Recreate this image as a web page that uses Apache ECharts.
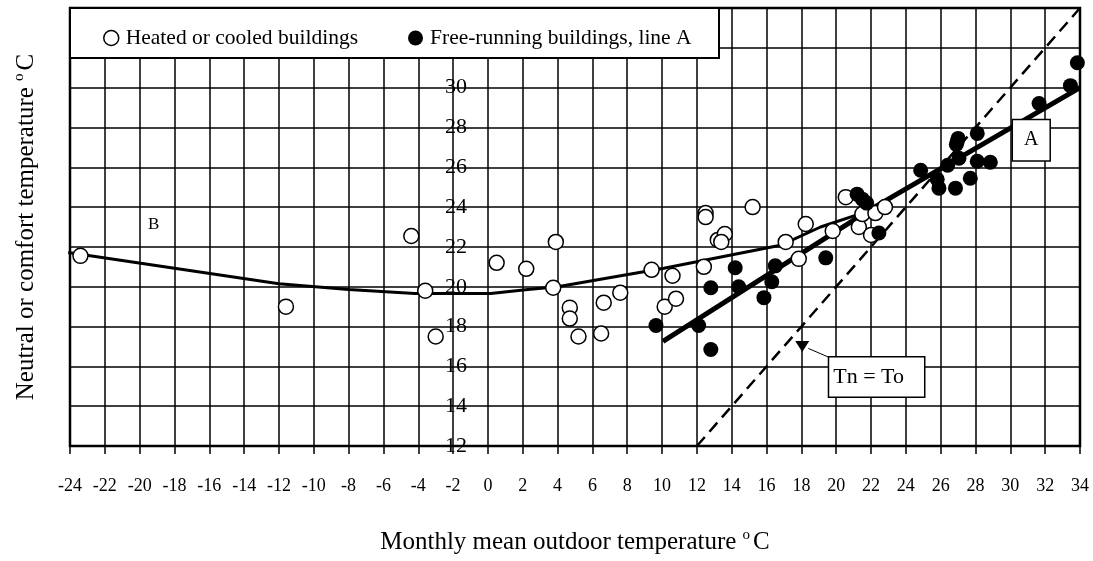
<!DOCTYPE html>
<html>
<head>
<meta charset="utf-8">
<script src="https://cdn.jsdelivr.net/npm/echarts@6/dist/echarts.min.js"></script>
<style>
html,body{margin:0;padding:0;background:#fff;}
#chart{width:1093px;height:561px;}
</style>
</head>
<body>
<div id="chart"></div>
<script>
// ---- data ----
const heatedCooled = [[-23.4,21.55],[-11.6,19.0],[-4.4,22.55],[-3.6,19.8],[-3.0,17.5],[0.5,21.2],[2.2,20.9],[3.9,22.25],[3.75,19.95],[4.7,18.95],[4.7,18.4],[5.2,17.5],[6.5,17.65],[6.65,19.2],[7.6,19.7],[9.4,20.85],[10.6,20.55],[10.15,19.0],[10.8,19.4],[12.4,21.0],[12.5,23.7],[12.5,23.5],[13.2,22.35],[13.6,22.65],[13.4,22.25],[15.2,24.0],[17.1,22.25],[18.25,23.15],[17.85,21.4],[19.8,22.8],[20.55,24.5],[21.3,23.0],[21.5,23.65],[22.0,22.6],[22.25,23.7],[22.8,24.0]];
const freeRunning = [[9.65,18.05],[12.1,18.05],[12.8,16.85],[12.8,19.95],[14.2,20.95],[14.4,20.0],[15.85,19.45],[16.5,21.05],[16.3,20.25],[19.4,21.45],[22.45,22.7],[21.2,24.65],[21.5,24.4],[21.75,24.2],[24.85,25.85],[25.8,25.4],[25.9,24.95],[26.4,26.1],[26.85,24.95],[26.95,27.3],[27.0,27.45],[26.9,27.15],[27.05,26.45],[27.7,25.45],[28.1,27.7],[28.1,26.3],[28.85,26.25],[31.65,29.2],[33.45,30.1],[33.85,31.25]];
const lineB = [[-24.1,21.72],[-12,20.15],[-8,19.86],[-4.2,19.66],[0.15,19.66],[2.3,19.86],[4,20.0],[10.1,20.93],[16.8,22.08],[19.1,23.0],[21.5,23.7],[22.0,23.9]];
const lineA = [[10.05,17.25],[22.0,23.9],[34,30.0]];
const lineTnTo = [[12,12],[34,34]];
const labelA = [[31.2,27.36]];
const labelB = [[-19.2,23.1]];
const labelTn = [[19.6,16.45]];
const arrowLine = [[19.6,16.45],[18.4,16.9]];
const arrowHead = [[18.05,17.0]];
const xMin = -24, xMax = 34, xStep = 2;
const yMin = 12, yMax = 34, yStep = 2;
const xTitle = 'Monthly mean outdoor temperature {sup|o}C';
const yTitle = 'Neutral or comfort temperature {sup|o}C';
const legendNames = ['Heated or cooled buildings', 'Free-running buildings, line A'];

// ---- layout ----
const F = 'Liberation Serif';
const G = {left:70, right:13, top:8, bottom:109};
const gridW = 1093 - G.left - G.right;
const yAxisOffset = -((-2 - xMin) / (xMax - xMin)) * gridW;

const chart = echarts.init(document.getElementById('chart'), null, {renderer:'canvas'});
const supRich = {sup:{fontSize:15, fontFamily:F, color:'#000', verticalAlign:'top', lineHeight:16, padding:[0,3,0,0]}};
const solid = {opacity:1};

chart.setOption({
  animation:false,
  backgroundColor:'#fff',
  grid:{left:G.left, right:G.right, top:G.top, bottom:G.bottom, show:true, borderColor:'#000', borderWidth:2.5, backgroundColor:'transparent'},
  legend:{
    left:98, top:22, z:60,
    itemWidth:15, itemHeight:15, itemGap:50,
    textStyle:{fontFamily:F, fontSize:21.5, color:'#000', padding:[0,0,0,2]},
    data:[
      {name:legendNames[0], icon:'circle', itemStyle:{color:'#fff', borderColor:'#000', borderWidth:1.5, opacity:1}},
      {name:legendNames[1], icon:'circle', itemStyle:{color:'#000', borderColor:'#000', borderWidth:0, opacity:1}}
    ]
  },
  graphic:[{type:'rect', z:50, shape:{x:70, y:8, width:649, height:50}, style:{fill:'#fff', stroke:'#000', lineWidth:2}}],
  xAxis:[{
    type:'value', min:xMin, max:xMax, interval:xStep,
    axisLine:{show:true, onZero:false, lineStyle:{color:'#000', width:2}},
    axisTick:{show:true, length:8, lineStyle:{color:'#000', width:1.5}},
    axisLabel:{fontFamily:F, fontSize:18, color:'#000', margin:31},
    splitLine:{show:true, lineStyle:{color:'#000', width:1.5}},
    name:xTitle, nameLocation:'middle', nameGap:82,
    nameTextStyle:{fontFamily:F, fontSize:25, color:'#000', lineHeight:28, rich:supRich}
  }],
  yAxis:[{
    type:'value', min:yMin, max:yMax, interval:yStep, offset:yAxisOffset,
    axisLine:{show:false}, axisTick:{show:false},
    axisLabel:{inside:true, margin:-8, fontFamily:F, fontSize:22, color:'#000', showMaxLabel:false},
    splitLine:{show:true, lineStyle:{color:'#000', width:1.5}}
  },{
    type:'value', min:yMin, max:yMax, interval:yStep, position:'left',
    axisLine:{show:false}, axisTick:{show:false}, axisLabel:{show:false}, splitLine:{show:false},
    name:yTitle, nameLocation:'middle', nameGap:30,
    nameTextStyle:{fontFamily:F, fontSize:25, color:'#000', lineHeight:28, rich:supRich}
  }],
  series:[
    {type:'line', data:lineB, showSymbol:false, symbol:'none', z:2, lineStyle:{color:'#000', width:3}, silent:true},
    {type:'line', data:lineA, showSymbol:false, symbol:'none', z:2, lineStyle:{color:'#000', width:5}, silent:true},
    {type:'line', data:lineTnTo, showSymbol:false, symbol:'none', z:2, lineStyle:{color:'#000', width:2.5, type:[12,7]}, silent:true},
    {name:legendNames[0], type:'scatter', data:heatedCooled, symbol:'circle', symbolSize:15, z:3,
      itemStyle:{color:'#fff', borderColor:'#000', borderWidth:1.5, opacity:1}},
    {name:legendNames[1], type:'scatter', data:freeRunning, symbol:'circle', symbolSize:15, z:4,
      itemStyle:{color:'#000', borderColor:'#000', borderWidth:0, opacity:1}},
    {type:'line', data:arrowLine, showSymbol:false, symbol:'none', z:5, lineStyle:{color:'#000', width:1}, silent:true},
    {type:'scatter', data:arrowHead, symbol:'triangle', symbolSize:[14,11], symbolRotate:180, z:5, itemStyle:{color:'#000', opacity:1}, silent:true},
    {type:'scatter', data:labelTn, symbolSize:0, z:6, silent:true, itemStyle:solid,
      label:{show:true, position:[0,0], formatter:'Tn = To', fontFamily:F, fontSize:22, color:'#000', lineHeight:22,
        backgroundColor:'#fff', borderColor:'#000', borderWidth:1.5, padding:[9,20,8,4]}},
    {type:'scatter', data:labelA, symbolSize:0, z:6, silent:true, itemStyle:solid,
      label:{show:true, position:'inside', formatter:'A', fontFamily:F, fontSize:20, color:'#000', lineHeight:22,
        backgroundColor:'#fff', borderColor:'#000', borderWidth:1.5, padding:[9,11,9,11]}},
    {type:'scatter', data:labelB, symbolSize:0, z:6, silent:true, itemStyle:solid,
      label:{show:true, position:'inside', formatter:'B', fontFamily:F, fontSize:17, color:'#000'}}
  ]
});
</script>
</body>
</html>
